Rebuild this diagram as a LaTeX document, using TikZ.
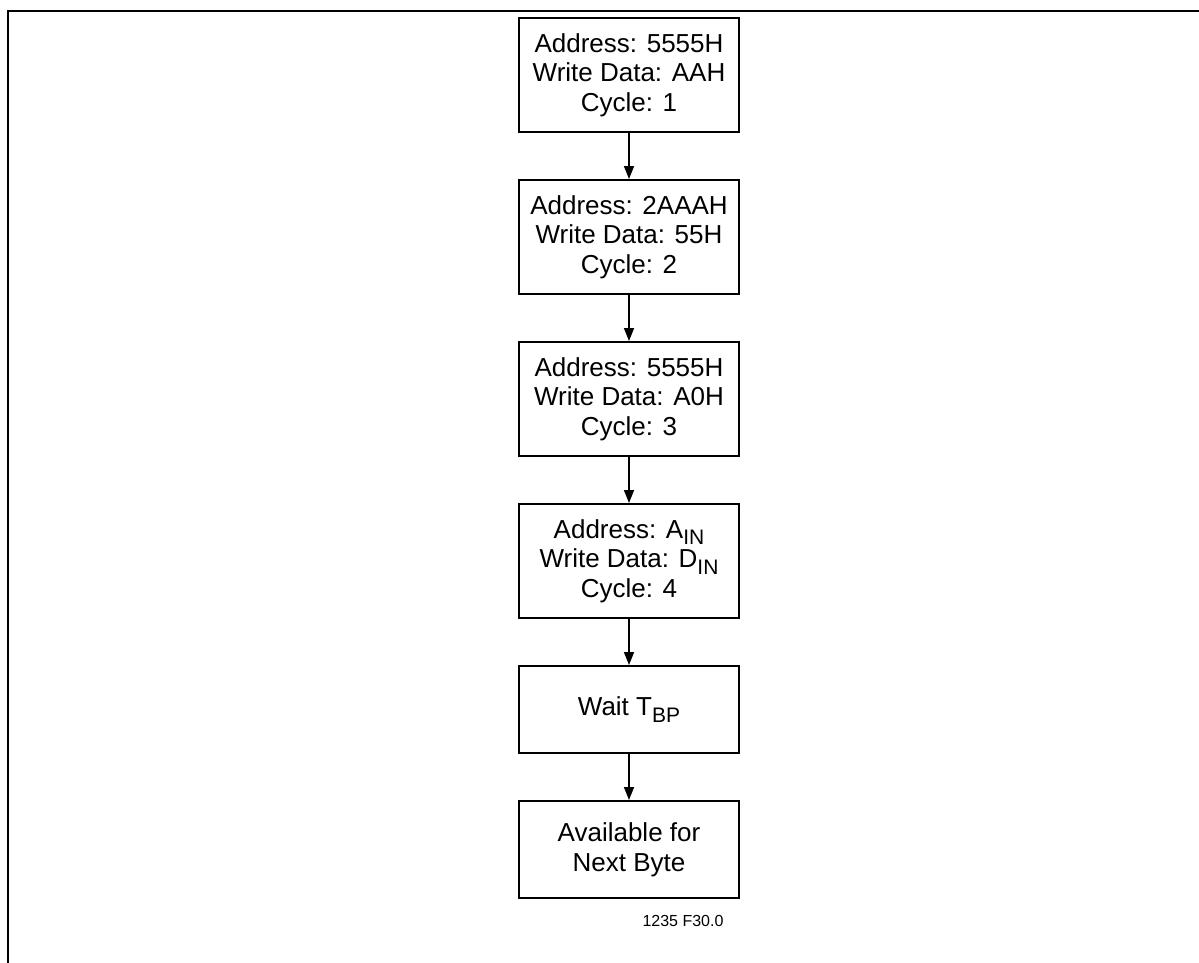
\documentclass[tikz,border=0pt]{standalone}
\usepackage{fontspec}
\setmainfont{Liberation Sans}
\usetikzlibrary{positioning,arrows.meta}
\newcommand\lowsub[1]{\raisebox{-0.5ex}{\fontsize{10.5}{12}\selectfont#1}}

\begin{document}
\begin{tikzpicture}[
    x=0.5pt, y=-0.5pt,
    node distance=23pt,
    font=\fontsize{13}{14.8}\selectfont,
    cyclebox/.style = {draw, line width=1pt, align=center,
        minimum width=110pt, minimum height=57pt, inner sep=2pt},
    every edge/.style = {draw, line width=0.8pt,
        -{Triangle[length=6.5pt,width=5pt]}}
     ]
  \useasboundingbox (0,0) rectangle (1199,963);
  \draw[line width=1pt] (7.5,963) -- (7.5,11) -- (1199,11);
  \node[cyclebox] (cyc1) at (629,75) {Address: 5555H\\Write Data: AAH\\Cycle: 1};
  \node[cyclebox, below=of cyc1] (cyc2) {Address: 2AAAH\\Write Data: 55H\\Cycle: 2};
  \node[cyclebox, below=of cyc2] (cyc3) {Address: 5555H\\Write Data: A0H\\Cycle: 3};
  \node[cyclebox, below=of cyc3] (cyc4) {Address: A\lowsub{IN}\\Write Data: D\lowsub{IN}\\Cycle: 4};
  \node[cyclebox, below=of cyc4, minimum height=43.5pt] (wait) {Wait T\lowsub{BP}};
  \node[cyclebox, below=of wait, minimum height=48.5pt] (avail) {Available for\\Next Byte};
  \node[below=8pt of avail, xshift=27pt, inner sep=0pt,
        font=\fontsize{8}{9}\selectfont] (figid) {1235 F30.0};
  \foreach \a/\b in {cyc1/cyc2, cyc2/cyc3, cyc3/cyc4, cyc4/wait, wait/avail}
    \draw (\a) edge (\b);
\end{tikzpicture}
\end{document}
